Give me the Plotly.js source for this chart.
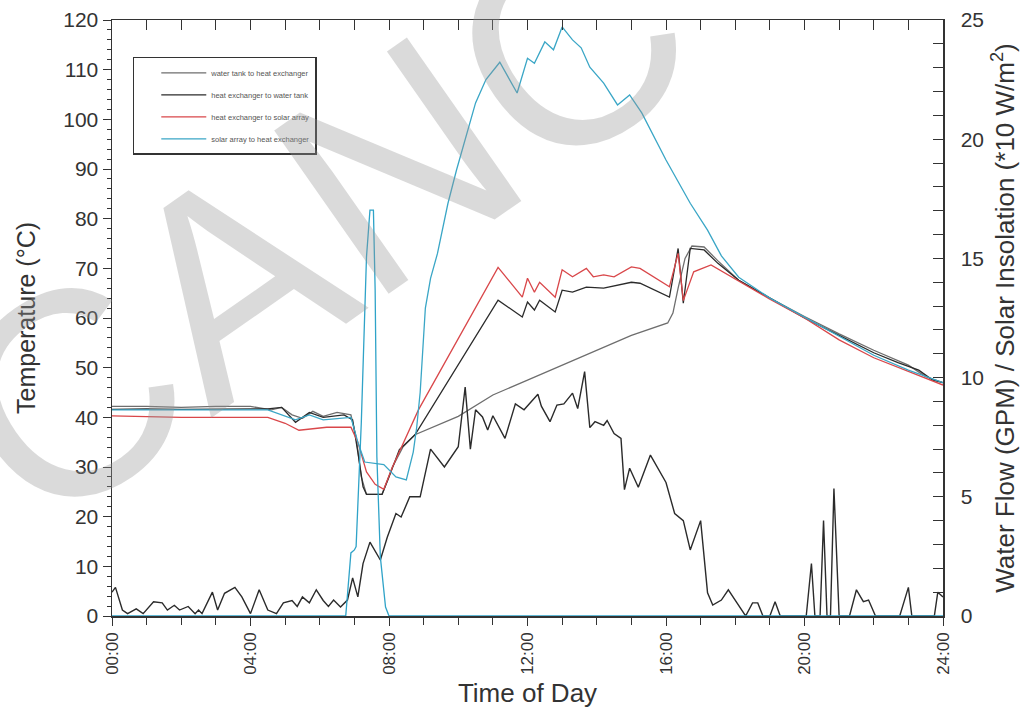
<!DOCTYPE html>
<html><head><meta charset="utf-8">
<script src="https://cdn.plot.ly/plotly-3.0.1.min.js"></script>
<style>html,body{margin:0;padding:0;background:#fff}#chart{width:1032px;height:725px}</style>
</head><body><div id="chart"></div>
<script>
// ---- Data (hours of day) ----
const tankT = [0,1,2,3,4,4.6,4.9,5.2,5.5,5.8,6.1,6.5,6.9,7.05,7.2,7.35,7.8,8.1,8.4,8.75,10,11,12,13,14,15,16.05,16.2,16.35,16.55,16.75,17.1,17.5,18.1,19,20,21,22,23,23.5,24];
const tankV = [42.2,42.2,42,42.2,42.2,41.5,42,40.5,39.8,41.2,40.2,41,40.5,36,28,24.5,24.5,30,34,36.5,40.2,44.5,47.5,50.5,53.6,56.5,59,61,66,72,74.5,74.3,71.5,67.6,64,60.3,56.8,53.5,50.5,48.2,47];

const hxTankT = [0,1,2,3,4,4.5,4.9,5.3,5.7,6.1,6.7,6.95,7.1,7.25,7.35,7.8,8.0,8.3,8.75,11.15,11.85,12.0,12.2,12.35,12.8,13.0,13.3,13.7,14.2,15.0,15.25,16.1,16.35,16.5,16.7,17.1,17.5,18.1,19,20,21,22,22.7,23.3,23.7,24];
const hxTankV = [41.6,41.7,41.6,41.6,41.7,41.7,42,39,41,40,40.5,39.5,33,26,24.5,24.5,28,33.5,36.5,63.6,60.2,63.2,61.6,63.6,61.2,65.6,65.2,66.2,66,67.2,67,64.2,74,63,74,73.7,71,67.6,64,60,56.5,53,51,49.5,47.5,47];

const hxSolarT = [0,1,2,3,4,4.5,5.0,5.4,6.2,6.9,7.1,7.35,7.6,7.85,8.1,8.5,8.85,11.15,11.85,12.0,12.2,12.35,12.8,13.0,13.3,13.7,13.9,14.2,14.5,15.0,15.25,16.1,16.35,16.5,16.8,17.3,18.1,19,20,21,22,23,23.5,24];
const hxSolarV = [40.3,40.1,40,40,40,40,38.8,37.4,38,38,35,29,26.5,25.5,30,36,41.5,70.2,64.2,68,65.2,67.2,64.2,69.7,68.3,70,68.3,68.7,68.3,70.3,70,66.3,73,63.5,69.3,70.7,67.4,63.8,60,55.6,52,49.3,48,46.5];

const solarHxT = [0,1,2,3,4,4.5,5.3,5.7,6.1,6.9,7.1,7.3,7.85,8.2,8.5,8.7,8.8,8.9,9.05,9.2,9.4,9.7,9.95,10.2,10.5,10.8,11.2,11.7,12.0,12.2,12.5,12.75,13.0,13.3,13.55,13.8,14.2,14.6,14.95,15.3,16.0,16.7,17.2,17.6,18.1,19,20,21,22,23,24];
const solarHxV = [41.5,41.5,41.5,41.5,41.5,41.5,39.5,40.5,39.5,40,35,31,30.5,28,27.4,33,38,45,62,68,73,83,89.8,96,103.3,108,111.5,105.3,112.3,111.3,115.6,114,118.6,116,114.4,110.5,107.3,102.9,104.9,101.3,91.8,83.1,77.7,72.5,68.2,64,60.2,56.3,52.5,49.5,47];

const spikeT = [0,6.75,6.9,7.0,7.05,7.2,7.35,7.45,7.55,7.6,7.65,7.75,7.9,8.0,24];
const spikeV = [0,0,12.7,13.3,14,38.9,72.3,81.7,81.7,65.6,32,11.9,1.8,0,0];

const flowT = [0,0.1,0.3,0.45,0.7,0.9,1.2,1.45,1.6,1.8,1.95,2.2,2.4,2.5,2.6,2.9,3.05,3.25,3.55,3.75,4.0,4.25,4.5,4.75,4.95,5.2,5.35,5.5,5.7,5.9,6.1,6.25,6.4,6.6,6.8,6.95,7.1,7.25,7.45,7.75,7.95,8.2,8.35,8.6,8.9,9.2,9.6,10.0,10.2,10.35,10.5,10.7,10.85,11.0,11.35,11.65,11.9,12.3,12.4,12.65,12.85,13.05,13.3,13.45,13.65,13.8,13.95,14.2,14.3,14.5,14.7,14.8,14.95,15.2,15.55,15.75,16.0,16.25,16.5,16.7,17.0,17.2,17.35,17.6,17.8,18.05,18.3,18.5,18.65,18.8,19.0,19.15,19.3,20.05,20.2,20.3,20.45,20.55,20.65,20.75,20.85,21.0,21.3,21.5,21.7,21.85,22.05,22.75,23.0,23.1,23.75,23.85,24];
const flowV = [1.0,1.2,0.25,0.1,0.3,0.1,0.6,0.55,0.25,0.45,0.25,0.4,0.1,0.25,0.1,1.0,0.25,0.95,1.2,0.8,0.1,1.1,0.25,0.1,0.55,0.65,0.4,0.8,0.55,1.1,0.65,0.4,0.67,0.38,0.67,1.6,0.8,2.2,3.1,2.35,3.3,4.3,4.15,5.0,5.0,7.0,6.25,7.1,9.6,7.0,8.65,8.35,7.8,8.4,7.45,8.9,8.65,9.3,8.8,8.15,8.85,8.9,9.35,8.7,10.25,7.9,8.15,8.0,8.2,7.65,7.45,5.3,6.2,5.4,6.75,6.25,5.6,4.3,4.0,2.77,4.0,0.97,0.46,0.67,1.1,0.55,0,0.55,0.55,0,0,0.6,0,0,2.2,0,0,4.0,0,0,5.35,0,0,1.1,0.6,0.67,0,0,1.2,0,0,1.0,0.8];

const hourTicks = [0,4,8,12,16,20,24];
const hourLabels = ['00:00','04:00','08:00','12:00','16:00','20:00','24:00'];
const seriesNames = ['water tank to heat exchanger','heat exchanger to water tank','heat exchanger to solar array','solar array to heat exchanger'];
const watermark = 'CANC';

const FONT = 'Liberation Sans, Arial, sans-serif';
const traces = [
  {x: tankT, y: tankV, name: seriesNames[0], legendgroup:'a', mode:'lines', line:{color:'#6e6e6e', width:1.3}},
  {x: hxTankT, y: hxTankV, name: seriesNames[1], legendgroup:'b', mode:'lines', line:{color:'#2b2b2b', width:1.3}},
  {x: hxSolarT, y: hxSolarV, name: seriesNames[2], legendgroup:'c', mode:'lines', line:{color:'#d9474a', width:1.3}},
  {x: solarHxT, y: solarHxV, name: seriesNames[3], legendgroup:'d', mode:'lines', line:{color:'#3aa6c6', width:1.3}},
  {x: spikeT, y: spikeV, xaxis:'x2', mode:'lines', showlegend:false, hoverinfo:'skip', line:{color:'#2fa3c8', width:1.3}},
  {x: flowT, y: flowV, yaxis:'y2', mode:'lines', showlegend:false, line:{color:'#2b2b2b', width:1.4}}
];

const axisLine = {showline:true, linecolor:'#333', linewidth:1.5, showgrid:false, zeroline:false};
const layout = {
  width:1032, height:725,
  margin:{l:112, r:89, t:20, b:109},
  paper_bgcolor:'#fff', plot_bgcolor:'#fff',
  font:{family:FONT, color:'#333'},
  showlegend:true,
  legend:{x:0.025, y:0.938, xanchor:'left', yanchor:'top', bgcolor:'rgba(255,255,255,0)', bordercolor:'#333', borderwidth:1.5,
          font:{family:FONT, size:7.5, color:'#555'}, itemwidth:45, indentation:22, tracegroupgap:3},
  xaxis: Object.assign({}, axisLine, {range:[0,24], tickmode:'array', tickvals:hourTicks, ticktext:hourLabels, tickangle:-90,
          ticks:'outside', ticklen:8, tickcolor:'#333', tickfont:{size:17, color:'#333'},
          minor:{dtick:1, ticks:'outside', ticklen:7, tickcolor:'#333'},
          title:{text:'Time of Day', font:{size:26, color:'#333'}, standoff:10}}),
  xaxis2: Object.assign({}, axisLine, {range:[0,24], overlaying:'x', side:'top', anchor:'y', dtick:1, ticks:'inside', ticklen:10,
          tickcolor:'#333', showticklabels:false}),
  yaxis: Object.assign({}, axisLine, {range:[0,120], dtick:10, ticks:'outside', ticklen:8, tickcolor:'#333',
          tickfont:{size:21, color:'#333'}, minor:{dtick:2, ticks:'outside', ticklen:4, tickcolor:'#333'},
          title:{text:'Temperature (°C)', font:{size:25, color:'#333'}, standoff:20}}),
  yaxis2: Object.assign({}, axisLine, {range:[0,25], overlaying:'y', side:'right', dtick:5, ticks:'inside', ticklen:10, tickcolor:'#333',
          tickfont:{size:21, color:'#333'}, ticklabelstandoff:12, minor:{dtick:1, ticks:'inside', ticklen:10, tickcolor:'#333'},
          title:{text:'Water Flow (GPM) / Solar Insolation (*10 W/m<sup>2</sup>)', font:{size:26, color:'#333'}, standoff:12}}),
  annotations:[{text:watermark, xref:'paper', yref:'paper', x:0.248, y:0.664, xanchor:'center', yanchor:'middle',
          showarrow:false, textangle:-35, font:{family:FONT, size:290, color:'rgba(150,150,150,0.35)'}}]
};
Plotly.newPlot('chart', traces, layout, {displayModeBar:false, staticPlot:true});
</script>
</body></html>
